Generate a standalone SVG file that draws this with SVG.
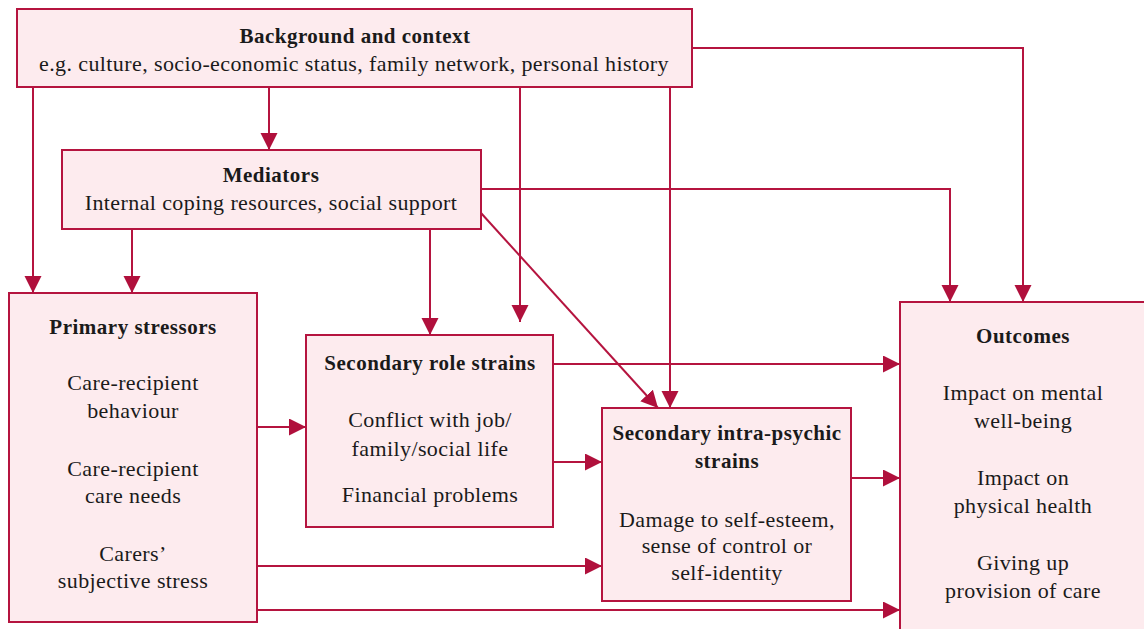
<svg xmlns="http://www.w3.org/2000/svg" width="1144" height="629" viewBox="0 0 1144 629">
<defs>
<marker id="ah" markerUnits="userSpaceOnUse" markerWidth="18" markerHeight="18" refX="17" refY="8.5" orient="auto">
<path d="M0,0 L17,8.5 L0,17 Z" fill="#b0103c"/>
</marker>
<style>
.box{fill:#fdebee;stroke:#b5143f;stroke-width:2}
.t{font-family:"Liberation Serif","Times New Roman",serif;font-size:22px;letter-spacing:0.4px;fill:#1a1a1a;text-anchor:middle}
.b{font-weight:bold;font-size:21px;letter-spacing:0.5px}
.c{fill:none;stroke:#b5143f;stroke-width:2;marker-end:url(#ah)}
</style>
</defs>
<rect width="1144" height="629" fill="#ffffff"/>
<g id="connectors">
<path class="c" d="M33,87 V293"/>
<path class="c" d="M269,87 V150"/>
<path class="c" d="M520,87 V322"/>
<path class="c" d="M670,87 V408"/>
<path class="c" d="M692,48 H1023 V302"/>
<path class="c" d="M481,189 H950 V302"/>
<path class="c" d="M132,229 V293"/>
<path class="c" d="M430,229 V335"/>
<path class="c" d="M481,213 L658,408"/>
<path class="c" d="M257,427 H306"/>
<path class="c" d="M553,364 H900"/>
<path class="c" d="M553,462 H602"/>
<path class="c" d="M851,478 H900"/>
<path class="c" d="M257,566 H602"/>
<path class="c" d="M257,610 H900"/>
</g>
<g id="background">
<rect class="box" x="17" y="9" width="675" height="78"/>
<text class="t b" x="355" y="43">Background and context</text>
<text class="t" x="354" y="71">e.g. culture, socio-economic status, family network, personal history</text>
</g>
<g id="mediators">
<rect class="box" x="62" y="150" width="419" height="79"/>
<text class="t b" x="271" y="182">Mediators</text>
<text class="t" x="271" y="210">Internal coping resources, social support</text>
</g>
<g id="primary">
<rect class="box" x="9" y="293" width="248" height="329"/>
<text class="t b" x="133" y="334">Primary stressors</text>
<text class="t" x="133" y="390">Care-recipient</text>
<text class="t" x="133" y="418">behaviour</text>
<text class="t" x="133" y="476">Care-recipient</text>
<text class="t" x="133" y="503">care needs</text>
<text class="t" x="133" y="561">Carers’</text>
<text class="t" x="133" y="588">subjective stress</text>
</g>
<g id="role">
<rect class="box" x="306" y="335" width="247" height="192"/>
<text class="t b" x="430" y="370">Secondary role strains</text>
<text class="t" x="430" y="427">Conflict with job/</text>
<text class="t" x="430" y="456">family/social life</text>
<text class="t" x="430" y="502">Financial problems</text>
</g>
<g id="intra">
<rect class="box" x="602" y="408" width="249" height="193"/>
<text class="t b" x="727" y="440">Secondary intra-psychic</text>
<text class="t b" x="727" y="468">strains</text>
<text class="t" x="727" y="527">Damage to self-esteem,</text>
<text class="t" x="727" y="553">sense of control or</text>
<text class="t" x="727" y="580">self-identity</text>
</g>
<g id="outcomes">
<rect class="box" x="900" y="302" width="250" height="340"/>
<text class="t b" x="1023" y="343">Outcomes</text>
<text class="t" x="1023" y="400">Impact on mental</text>
<text class="t" x="1023" y="428">well-being</text>
<text class="t" x="1023" y="485">Impact on</text>
<text class="t" x="1023" y="513">physical health</text>
<text class="t" x="1023" y="570">Giving up</text>
<text class="t" x="1023" y="598">provision of care</text>
</g>
</svg>
